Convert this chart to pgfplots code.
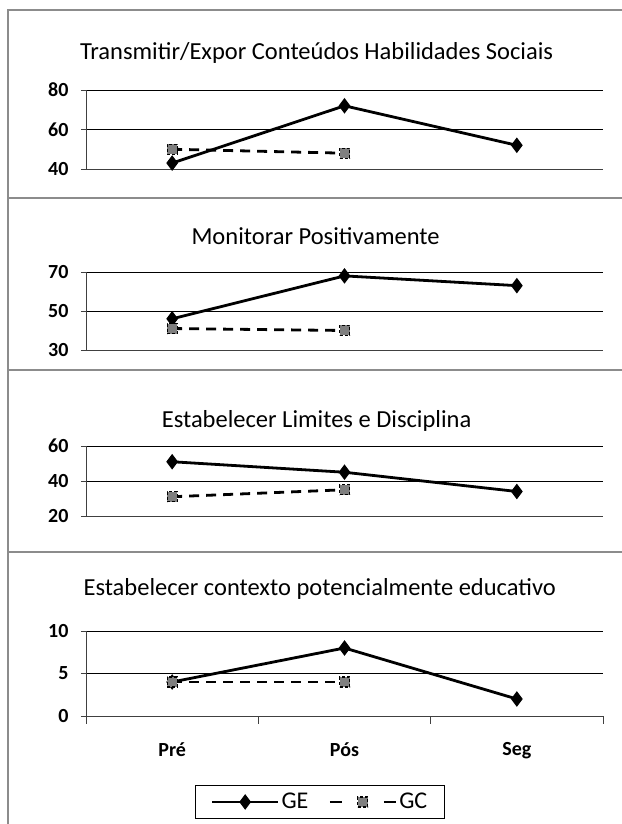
\documentclass[border=0pt]{standalone}
\usepackage{pgfplots}
\pgfplotsset{compat=1.18}
\usepackage{fontspec}
\setmainfont{Carlito}

\definecolor{frame}{HTML}{8C8C8C}
\definecolor{gcfill}{HTML}{7F7F7F}

\tikzset{ptitle/.style={font=\fontsize{24.5}{26}\selectfont}}

\pgfplotsset{
  panel/.style={
    scale only axis, width=517pt,
    xmin=-0.5, xmax=2.5,
    axis x line*=bottom, axis y line*=left,
    axis line style={black!75, line width=0.8pt},
    ymajorgrids, grid style={black, line width=0.8pt},
    xtick={0,1,2}, xticklabels={},
    major x tick style={draw=none},
    tick align=outside, major tick length=5pt,
    y tick style={black!75, line width=0.8pt},
    /pgf/number format/assume math mode=true,
    ticklabel style={font=\bfseries\fontsize{20}{22}\selectfont},
    yticklabel style={xshift=-9pt},
    clip=false,
  },
  ge/.style={black, line width=2.8pt, mark=diamond*, mark size=7pt,
    mark options={solid, fill=black, line width=1pt}},
  gc/.style={black, line width=2.8pt, dash pattern=on 10pt off 7pt,
    mark=square*, mark size=5pt,
    mark options={fill=gcfill, draw=black, line width=1.2pt, dash pattern=on 3pt off 2pt}},
  legend image code/.code={%
    \draw[mark repeat=2, mark phase=2, #1]
      plot coordinates {(0pt,0pt) (33pt,0pt) (66pt,0pt)};},
}

\begin{document}
\begin{tikzpicture}
\useasboundingbox (0pt,0pt) rectangle (621pt,824pt);
% moldura e separadores
\draw[frame, line width=2pt] (8pt,-20pt) -- (8pt,814pt) -- (640pt,814pt);
\draw[frame, line width=2pt] (8pt,626pt) -- (640pt,626pt);
\draw[frame, line width=2pt] (8pt,454pt) -- (640pt,454pt);
\draw[frame, line width=2pt] (8pt,272pt) -- (640pt,272pt);

% painel 1
\begin{axis}[panel, at={(86pt,655pt)}, anchor=south west, height=79pt,
  ymin=40, ymax=80, ytick={40,60,80}]
\node[ptitle] at (axis description cs:0.446,1.47) {Transmitir/Expor Conteúdos Habilidades Sociais};
\addplot[ge] coordinates {(0,43) (1,72) (2,52)};
\addplot[gc] coordinates {(0,50) (1,48)};
\end{axis}

% painel 2
\begin{axis}[panel, at={(86pt,474pt)}, anchor=south west, height=78pt,
  ymin=30, ymax=70, ytick={30,50,70}]
\node[ptitle] at (axis description cs:0.444,1.46) {Monitorar Positivamente};
\addplot[ge] coordinates {(0,46) (1,68) (2,63)};
\addplot[gc] coordinates {(0,41) (1,40)};
\end{axis}

% painel 3
\begin{axis}[panel, at={(86pt,308pt)}, anchor=south west, height=70pt,
  ymin=20, ymax=60, ytick={20,40,60}]
\node[ptitle] at (axis description cs:0.446,1.36) {Estabelecer Limites e Disciplina};
\addplot[ge] coordinates {(0,51) (1,45) (2,34)};
\addplot[gc] coordinates {(0,31) (1,35)};
\end{axis}

% painel 4
\begin{axis}[panel, at={(86pt,108pt)}, anchor=south west, height=85pt,
  ymin=0, ymax=10, ytick={0,5,10},
  xticklabels={Pré,Pós,Seg},
  xticklabel style={yshift=-18pt},
  minor xtick={-0.5,0.5,1.5,2.5},
  minor x tick style={black!75, line width=0.8pt},
  minor tick length=8pt,
  legend columns=2,
  legend style={at={(axis description cs:0.4526,-0.812)}, anchor=north,
    draw=black, line width=0.8pt,
    font=\fontsize{24}{26}\selectfont,
    inner xsep=15pt, inner ysep=6pt,
    /tikz/every even column/.append style={column sep=18pt}},
  ]
\node[ptitle] at (axis description cs:0.452,1.50) {Estabelecer contexto potencialmente educativo};
\addplot[ge] coordinates {(0,4) (1,8) (2,2)};
\addlegendentry{GE}
\addplot[gc, legend image post style={dash pattern=on 12pt off 42pt}] coordinates {(0,4) (1,4)};
\addlegendentry{GC}
\end{axis}
\end{tikzpicture}
\end{document}
